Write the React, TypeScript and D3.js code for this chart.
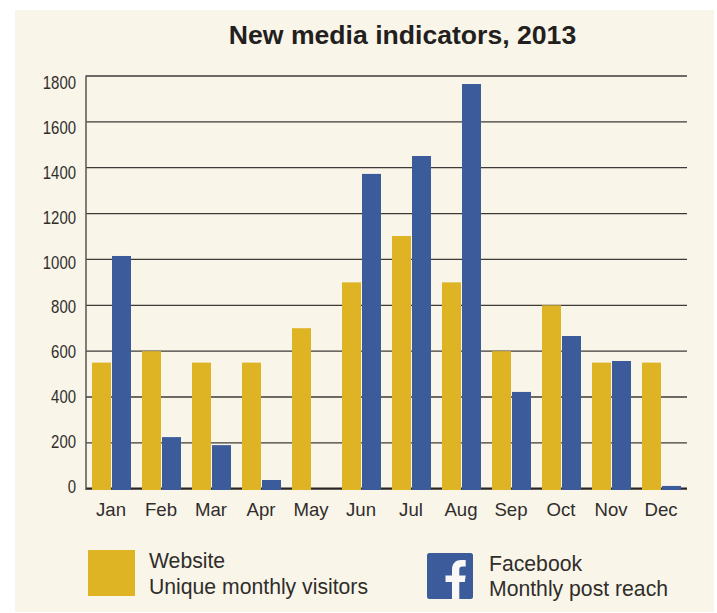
import React from "react";
import * as d3 from "d3";

const months = ["Jan", "Feb", "Mar", "Apr", "May", "Jun", "Jul", "Aug", "Sep", "Oct", "Nov", "Dec"];
const website = [550, 600, 550, 550, 700, 900, 1102, 900, 600, 800, 550, 550];
const facebook = [1015, 225, 190, 38, 3, 1373, 1451, 1765, 422, 666, 557, 12];
const ticks = [0, 200, 400, 600, 800, 1000, 1200, 1400, 1600, 1800];
const seriesKeys = ["website", "facebook"];

const GOLD = "#DEB424";
const BLUE = "#3B5B9B";
const BG = "#F9F5E9";
const LINE = "#3E3A37";
const TEXT = "#302D2B";
const FONT = "'Liberation Sans', Arial, sans-serif";

export default function App() {
  const x = d3.scaleBand<string>().domain(months).range([87, 687]);
  const inner = d3.scaleBand<string>().domain(seriesKeys).range([5, 45]);
  const y = d3.scaleLinear().domain([0, 1800]).range([488.7, 76]);
  const labelY = d3.scaleLinear().domain([0, 1800]).range([493, 89]);
  const barBase = 490;

  return (
    <svg
      width={717}
      height={613}
      style={{ position: "absolute", left: 0, top: 0, background: "#fff" }}
      fontFamily={FONT}
    >
      <rect x={15} y={10} width={699} height={602} fill={BG} />
      <text x={402.5} y={44} textAnchor="middle" fontSize={26.6} fontWeight="bold" fill="#231F20">
        New media indicators, 2013
      </text>

      {ticks.map((t) => (
        <line
          key={t}
          x1={86}
          x2={687}
          y1={y(t)}
          y2={y(t)}
          stroke={t === 0 ? "#2A2624" : LINE}
          strokeWidth={t === 0 ? 2.2 : 1.3}
        />
      ))}
      <line x1={86} x2={86} y1={75.4} y2={490} stroke="#5A5550" strokeWidth={1.5} />

      {ticks.map((t) => (
        <text
          key={t}
          transform={`translate(76,${labelY(t)}) scale(0.83,1)`}
          textAnchor="end"
          fontSize={18}
          fill={TEXT}
        >
          {t}
        </text>
      ))}

      {months.map((m, i) => (
        <g key={m} transform={`translate(${x(m)},0)`}>
          <rect
            x={inner("website")}
            width={19}
            y={y(website[i])}
            height={barBase - y(website[i])}
            fill={GOLD}
          />
          {facebook[i] > 5 && (
            <rect
              x={inner("facebook")}
              width={19}
              y={y(facebook[i])}
              height={barBase - y(facebook[i])}
              fill={BLUE}
            />
          )}
          <text x={x.bandwidth() / 2 - 1} y={515.5} textAnchor="middle" fontSize={18.6} fill={TEXT}>
            {m}
          </text>
        </g>
      ))}

      <rect x={88} y={550} width={47} height={46} fill={GOLD} />
      <text x={149} y={568} fontSize={21.2} fill={TEXT}>Website</text>
      <text x={149} y={594} fontSize={21.2} fill={TEXT}>Unique monthly visitors</text>

      <rect x={427} y={553} width={46} height={46} rx={2.5} fill={BLUE} />
      <path
        d="M452 599 V582 H445.5 V575.5 H452 V570 C452 563 456 560 461 560 H465.7 V566.5 H462.5 C460.2 566.5 459.3 567.5 459.3 569.8 V575.5 H465.7 L464.8 582 H459.3 V599 Z"
        fill="#F9F8F6"
      />
      <text x={489} y={571} fontSize={21.2} fill={TEXT}>Facebook</text>
      <text x={489} y={596} fontSize={21.2} fill={TEXT}>Monthly post reach</text>
    </svg>
  );
}
